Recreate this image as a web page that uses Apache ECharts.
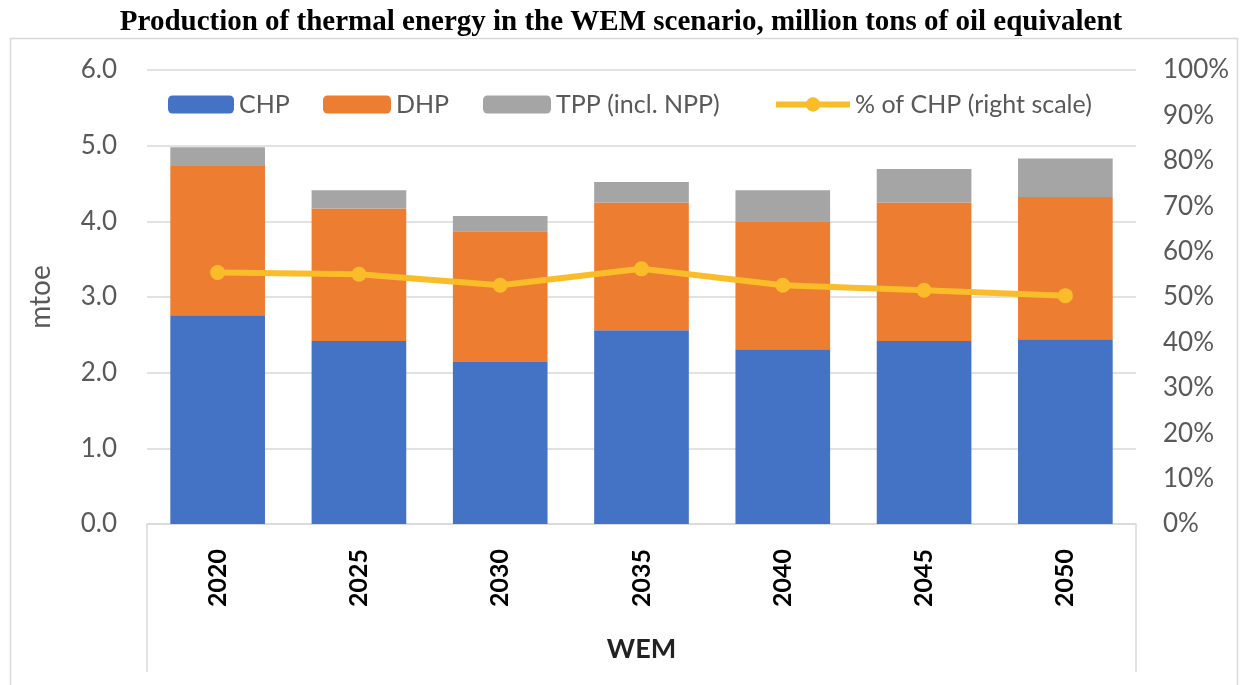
<!DOCTYPE html>
<html>
<head>
<meta charset="utf-8">
<script src="https://cdn.jsdelivr.net/npm/echarts@6/dist/echarts.min.js"></script>
<style>
html,body{margin:0;padding:0;background:#fff;}
#chart{width:1242px;height:685px;}
</style>
</head>
<body>
<div id="chart"></div>
<script>
const years = ['2020','2025','2030','2035','2040','2045','2050'];
const chp = [2.76, 2.42, 2.14, 2.56, 2.31, 2.42, 2.44];
const dhp = [1.97, 1.75, 1.73, 1.69, 1.69, 1.83, 1.88];
const tpp = [0.25, 0.24, 0.20, 0.27, 0.41, 0.44, 0.51];
const chpShare = [55.4, 55.0, 52.6, 56.2, 52.6, 51.5, 50.3];
const leftTicks = {min: 0, max: 6, interval: 1};
const rightTicks = {min: 0, max: 100, interval: 10};
const groupLabel = ['WEM'];

const FONT = 'Lato';
const GREY = '#595959';
const chart = echarts.init(document.getElementById('chart'));

function legendAt(left, name, w, extra) {
  return Object.assign({
    left: left, top: 87, data: [name],
    itemWidth: w, itemHeight: 18, itemGap: 0,
    textStyle: {fontFamily: FONT, fontSize: 25, color: GREY, padding: [0,0,0,0]}
  }, extra || {});
}

chart.setOption({
  animation: false,
  title: {
    text: 'Production of thermal energy in the WEM scenario, million tons of oil equivalent',
    left: 'center', top: 3,
    textStyle: {fontFamily: 'Liberation Serif', fontWeight: 'bold', fontSize: 29, color: '#000'}
  },
  graphic: [{
    type: 'rect', silent: true, z: -10,
    shape: {x: 10.5, y: 38.5, width: 1227, height: 700},
    style: {fill: 'none', stroke: '#d9d9d9', lineWidth: 1.5}
  }],
  legend: [
    legendAt(163, 'CHP', 66),
    legendAt(318, 'DHP', 68),
    legendAt(478, 'TPP (incl. NPP)', 68),
    legendAt(768, '% of CHP (right scale)', 74, {lineStyle: {width: 6}, itemStyle: {}})
  ],
  grid: {left: 147, right: 106, top: 70, bottom: 161},
  xAxis: [{
    type: 'category', data: years,
    axisLine: {show: true, lineStyle: {color: '#d9d9d9', width: 1.5}},
    axisTick: {show: false},
    axisLabel: {rotate: 90, margin: 25, fontFamily: FONT, fontWeight: 'bold', fontSize: 25, color: '#000'}
  }, {
    type: 'category', data: groupLabel, position: 'bottom',
    axisLine: {show: false},
    axisTick: {show: true, length: 148, lineStyle: {color: '#d9d9d9', width: 1.5}},
    axisLabel: {margin: 112, fontFamily: FONT, fontWeight: 'bold', fontSize: 27, color: '#222'}
  }],
  yAxis: [{
    type: 'value', min: leftTicks.min, max: leftTicks.max, interval: leftTicks.interval,
    name: 'mtoe', nameLocation: 'middle', nameGap: 92, nameRotate: 90,
    nameTextStyle: {fontFamily: FONT, fontSize: 28, color: GREY},
    axisLine: {show: false}, axisTick: {show: false},
    axisLabel: {margin: 30, fontFamily: FONT, fontSize: 26, color: GREY, formatter: v => v.toFixed(1)},
    splitLine: {lineStyle: {color: '#d9d9d9', width: 1.5}}
  }, {
    type: 'value', min: rightTicks.min, max: rightTicks.max, interval: rightTicks.interval,
    position: 'right',
    axisLine: {show: false}, axisTick: {show: false},
    axisLabel: {margin: 27, fontFamily: FONT, fontSize: 26, color: GREY, formatter: '{value}%'},
    splitLine: {show: false}
  }],
  series: [
    {name: 'CHP', type: 'bar', stack: 'a', data: chp, barCategoryGap: '33%', itemStyle: {color: '#4472C4'}},
    {name: 'DHP', type: 'bar', stack: 'a', data: dhp, itemStyle: {color: '#ED7D31'}},
    {name: 'TPP (incl. NPP)', type: 'bar', stack: 'a', data: tpp, itemStyle: {color: '#A5A5A5'}},
    {name: '% of CHP (right scale)', type: 'line', yAxisIndex: 1, data: chpShare,
     symbol: 'circle', symbolSize: 15, lineStyle: {color: '#FBBC2A', width: 6},
     itemStyle: {color: '#FBBC2A'}}
  ]
});
</script>
</body>
</html>
